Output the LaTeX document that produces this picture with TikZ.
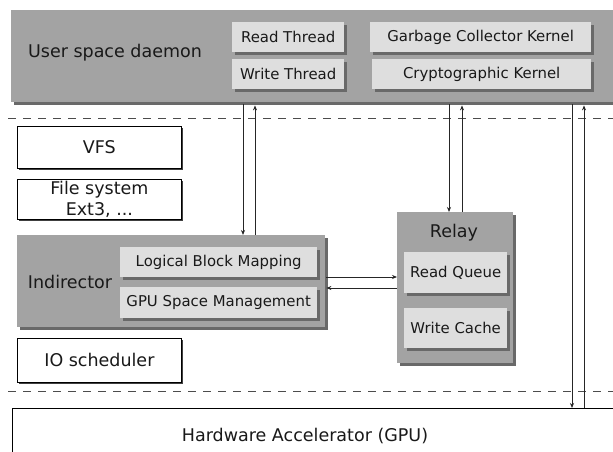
\documentclass[tikz,border=0pt]{standalone}
\usepackage{fontspec}
\setmainfont{DejaVu Sans}
\usetikzlibrary{shadows,arrows.meta}
\definecolor{outerg}{RGB}{163,163,163}
\definecolor{innerg}{RGB}{222,222,222}
\definecolor{shd}{RGB}{105,105,105}
\definecolor{txt}{RGB}{25,25,25}
\tikzset{
  bigfont/.style={font=\fontsize{17.5}{21}\selectfont, text=txt},
  smallfont/.style={font=\fontsize{14.9}{17}\selectfont, text=txt},
  outerbox/.style={fill=outerg, draw=none, anchor=north west, inner sep=0pt,
    drop shadow={shadow xshift=2.5pt, shadow yshift=-2.5pt, fill=shd, opacity=1}},
  innerbox/.style={fill=innerg, draw=none, anchor=north west, inner sep=0pt, smallfont,
    drop shadow={shadow xshift=2.5pt, shadow yshift=-2.5pt, fill=shd, opacity=1}},
  whitebox/.style={fill=white, draw=black, line width=0.8pt, anchor=north west, inner sep=0pt, bigfont, align=center,
    drop shadow={shadow xshift=2pt, shadow yshift=-2pt, fill=black!75, opacity=1}},
  label/.style={bigfont, inner sep=0pt},
  conn/.style={line width=0.8pt, draw=black!85, -{Stealth[length=5pt,width=4pt]}},
  sep/.style={line width=1pt, draw=black!70, dash pattern=on 8pt off 7pt},
}
\begin{document}
\begin{tikzpicture}[x=1pt,y=-1pt]
\useasboundingbox (0,0) rectangle (613,452);
\clip (0,0) rectangle (613,452);
\fill[white] (0,0) rectangle (613,452);

% separators
\draw[sep] (8,118) -- (613,118);
\draw[sep] (8,391) -- (613,391);

% user space daemon
\node[outerbox, minimum width=640pt, minimum height=92pt] (daemon) at (11,10) {};
\node[label] (daemonlbl) at (115,53) {User space daemon};
\node[innerbox, minimum width=112pt, minimum height=30pt] (rt) at (232,22) {Read Thread};
\node[innerbox, minimum width=112pt, minimum height=30pt] (wt) at (232,59) {Write Thread};
\node[innerbox, minimum width=221pt, minimum height=30pt] (gc) at (370,22) {Garbage Collector Kernel};
\node[innerbox, minimum width=219pt, minimum height=30pt] (ck) at (372,59) {Cryptographic Kernel};

% kernel column
\node[whitebox, minimum width=164pt, minimum height=42pt] (vfs) at (17,126) {VFS};
\node[whitebox, minimum width=164pt, minimum height=40pt] (fs) at (17,179) {File system\\Ext3, ...};
\node[whitebox, minimum width=164pt, minimum height=44pt] (io) at (17,338) {IO scheduler};

% indirector
\node[outerbox, minimum width=308pt, minimum height=92pt] (indir) at (17,235) {};
\node[label] (indirlbl) at (70,282) {Indirector};
\node[innerbox, minimum width=197pt, minimum height=30pt] (lbm) at (120,247) {Logical Block Mapping};
\node[innerbox, minimum width=197pt, minimum height=31pt] (gsm) at (120,287) {GPU Space Management};

% relay
\node[outerbox, minimum width=116pt, minimum height=151pt] (relay) at (397,212) {};
\node[label] (relaylbl) at (454,233) {Relay};
\node[innerbox, minimum width=103pt, minimum height=41pt] (rq) at (404,252) {Read Queue};
\node[innerbox, minimum width=103pt, minimum height=40pt] (wc) at (404,308) {Write Cache};

% hardware
\node[fill=white, draw=black, line width=0.8pt, anchor=north west, minimum width=640pt, minimum height=80pt] (hw) at (12,408) {};
\node[label] (hwlbl) at (305,436) {Hardware Accelerator (GPU)};

% connector x positions
\coordinate (c1) at (243,0);
\coordinate (c2) at (255,0);
\coordinate (c3) at (449,0);
\coordinate (c4) at (462,0);
\coordinate (c5) at (572,0);
\coordinate (c6) at (584,0);
\coordinate (r1) at (0,277);
\coordinate (r2) at (0,288);

\draw[conn] ([yshift=-2pt]daemon.south -| c1) -- (indir.north -| c1);
\draw[conn] (indir.north -| c2) -- ([yshift=-3pt]daemon.south -| c2);
\draw[conn] ([yshift=-2pt]daemon.south -| c3) -- (relay.north -| c3);
\draw[conn] (relay.north -| c4) -- ([yshift=-3pt]daemon.south -| c4);
\draw[conn] ([yshift=-2pt]daemon.south -| c5) -- (hw.north -| c5);
\draw[conn] (hw.north -| c6) -- ([yshift=-3pt]daemon.south -| c6);
\draw[conn] ([xshift=1pt]indir.east |- r1) -- (relay.west |- r1);
\draw[conn] (relay.west |- r2) -- ([xshift=1pt]indir.east |- r2);
\end{tikzpicture}
\end{document}
